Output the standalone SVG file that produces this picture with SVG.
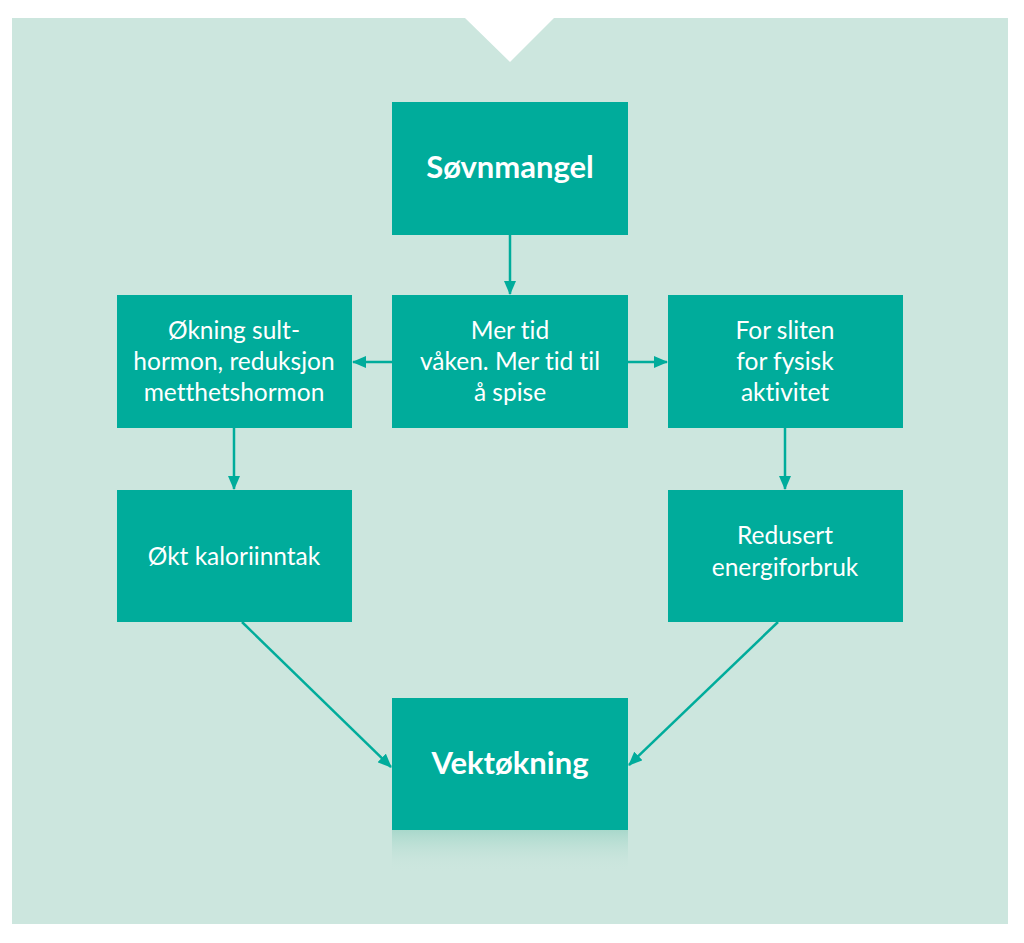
<svg xmlns="http://www.w3.org/2000/svg" width="1024" height="943" viewBox="0 0 1024 943">
<defs>
<style>
.box{fill:#00ac9b}
.t{font-family:Lato,"Open Sans",sans-serif;font-size:24.5px;fill:#ffffff;text-anchor:middle;font-variant-ligatures:none;font-feature-settings:"liga" 0,"dlig" 0}
.b{font-family:Lato,"Open Sans",sans-serif;font-size:31px;font-weight:bold;fill:#ffffff;text-anchor:middle;font-variant-ligatures:none;font-feature-settings:"liga" 0}
.c{stroke:#00ac9b;stroke-width:2.5;fill:none}
</style>
<marker id="ah" markerWidth="14" markerHeight="12" refX="13" refY="6" orient="auto" markerUnits="userSpaceOnUse" viewBox="0 0 14 12">
<path d="M0,0 L14,6 L0,12 Z" fill="#00ac9b"/>
</marker>
<linearGradient id="sh" x1="0" y1="0" x2="0" y2="1">
<stop offset="0" stop-color="#a8d8cb"/>
<stop offset="1" stop-color="#cce6de" stop-opacity="0"/>
</linearGradient>
</defs>
<rect width="1024" height="943" fill="#ffffff"/>
<path d="M12,18 L465,18 L510,62 L554,18 L1008,18 L1008,924 L12,924 Z" fill="#cce6de"/>
<rect x="392" y="830" width="236" height="42" fill="url(#sh)"/>
<g id="connectors">
<line class="c" x1="510" y1="235" x2="510" y2="294" marker-end="url(#ah)"/>
<line class="c" x1="392" y1="362" x2="353" y2="362" marker-end="url(#ah)"/>
<line class="c" x1="628" y1="362" x2="667" y2="362" marker-end="url(#ah)"/>
<line class="c" x1="234" y1="428" x2="234" y2="489" marker-end="url(#ah)"/>
<line class="c" x1="785" y1="428" x2="785" y2="489" marker-end="url(#ah)"/>
<line class="c" x1="242" y1="622" x2="391" y2="767" marker-end="url(#ah)"/>
<line class="c" x1="778" y1="622" x2="629" y2="765" marker-end="url(#ah)"/>
</g>
<g id="sovnmangel">
<rect class="box" x="392" y="102" width="236" height="133"/>
<text class="b" x="510" y="178">Søvnmangel</text>
</g>
<g id="mertid">
<rect class="box" x="392" y="295" width="236" height="133"/>
<text class="t" x="510" y="339">Mer tid</text>
<text class="t" x="510" y="370">våken. Mer tid til</text>
<text class="t" x="510" y="401">å spise</text>
</g>
<g id="okning">
<rect class="box" x="117" y="295" width="235" height="133"/>
<text class="t" x="234" y="339">Økning sult-</text>
<text class="t" x="234" y="370">hormon, reduksjon</text>
<text class="t" x="234" y="401">metthetshormon</text>
</g>
<g id="forsliten">
<rect class="box" x="668" y="295" width="235" height="133"/>
<text class="t" x="785" y="339">For sliten</text>
<text class="t" x="785" y="370">for fysisk</text>
<text class="t" x="785" y="401">aktivitet</text>
</g>
<g id="oktkalori">
<rect class="box" x="117" y="490" width="235" height="132"/>
<text class="t" x="234" y="565">Økt kaloriinntak</text>
</g>
<g id="redusert">
<rect class="box" x="668" y="490" width="235" height="132"/>
<text class="t" x="785" y="544">Redusert</text>
<text class="t" x="785" y="576">energiforbruk</text>
</g>
<g id="vektokning">
<rect class="box" x="392" y="698" width="236" height="132"/>
<text class="b" x="510" y="774">Vektøkning</text>
</g>
</svg>
